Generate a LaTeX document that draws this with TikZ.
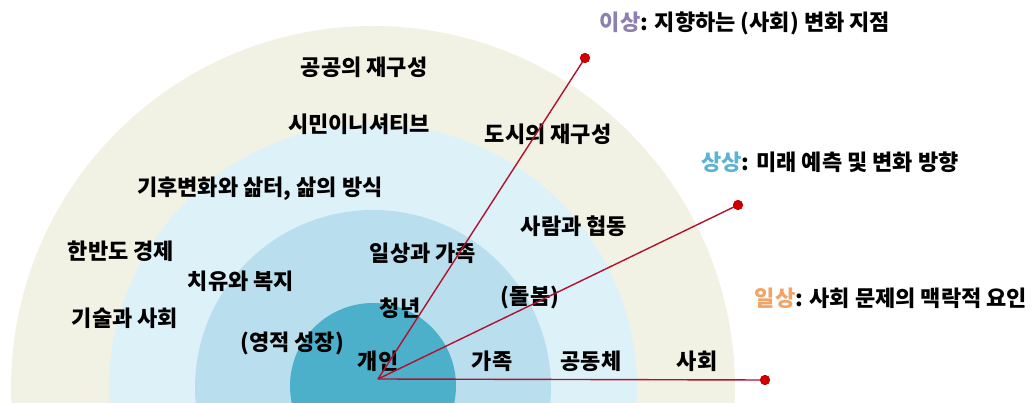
\documentclass[tikz,border=0pt]{standalone}
\usepackage{fontspec}
\setmainfont{Noto Sans CJK KR}
\definecolor{ringA}{HTML}{F2F2E4}
\definecolor{ringB}{HTML}{DDF1F9}
\definecolor{ringC}{HTML}{B9DFEE}
\definecolor{ringD}{HTML}{4CB0CA}
\definecolor{linered}{HTML}{B0122E}
\definecolor{dotred}{HTML}{CC0000}
\definecolor{ipurple}{HTML}{8A80B2}
\definecolor{sblue}{HTML}{5DB4CF}
\definecolor{iorange}{HTML}{F2A468}
\tikzset{
  lbl/.style={font=\bfseries\fontsize{22}{26}\selectfont, inner sep=0pt, text=black},
  ray/.style={draw=linered, line width=1.4pt},
  enddot/.style={circle, fill=dotred, minimum size=10pt, inner sep=0pt},
}
\begin{document}
\begin{tikzpicture}[x=1pt,y=-1pt]
\useasboundingbox (0,0) rectangle (1036,403);
\fill[white] (0,0) rectangle (1036,403);
\begin{scope}
\clip (0,0) rectangle (1036,403);
\fill[ringA] (373,388) circle[radius=362pt];
\fill[ringB] (373,388) circle[radius=264pt];
\fill[ringC] (373,388) circle[radius=178pt];
\fill[ringD] (373,386) circle[radius=83pt];
\end{scope}
% ring labels
\node[lbl] (t1) at (364,67) {공공의 재구성};
\node[lbl] (t2) at (359,124) {시민이니셔티브};
\node[lbl] (t3) at (548,134) {도시의 재구성};
\node[lbl] (t4) at (260,189) {기후변화와 삶터, 삶의 방식};
\node[lbl] (t5) at (574,226) {사람과 협동};
\node[lbl] (t6) at (121,251) {한반도 경제};
\node[lbl] (t7) at (423,253) {일상과 가족};
\node[lbl] (t8) at (241,281) {치유와 복지};
\node[lbl] (t9) at (530,298) {(돌봄)};
\node[lbl] (t10) at (400,308) {청년};
\node[lbl] (t11) at (125,318) {기술과 사회};
\node[lbl] (t12) at (292,343) {(영적 성장)};
\node[lbl] (t13) at (378,361) {개인};
\node[lbl] (t14) at (492,361) {가족};
\node[lbl] (t15) at (591,361) {공동체};
\node[lbl] (t16) at (697,361) {사회};
% legend
\node[lbl] (l1) at (745,23) {\textcolor{ipurple}{이상}: 지향하는 (사회) 변화 지점};
\node[lbl] (l2) at (830,162) {\textcolor{sblue}{상상}: 미래 예측 및 변화 방향};
\node[lbl] (l3) at (891,298) {\textcolor{iorange}{일상}: 사회 문제의 맥락적 요인};
% rays
\coordinate (o) at (378,379);
\node[enddot] (d1) at (585,58) {};
\node[enddot] (d2) at (738,205) {};
\node[enddot] (d3) at (765,380) {};
\draw[ray] (o) -- (d1.center);
\draw[ray] (o) -- (d2.center);
\draw[ray] (o) -- (d3.center);
\node[enddot] at (d1) {};
\node[enddot] at (d2) {};
\node[enddot] at (d3) {};
\end{tikzpicture}
\end{document}
